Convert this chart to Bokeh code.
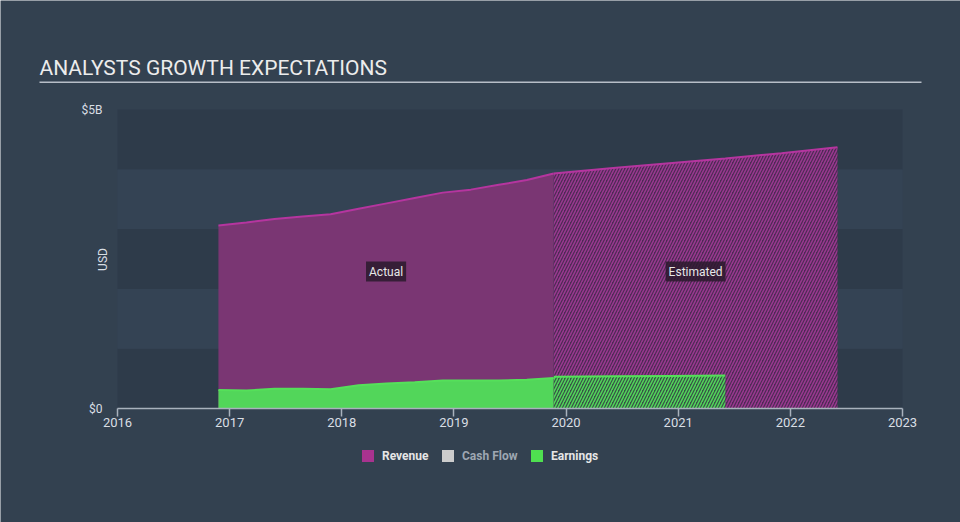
import re
import math
from bokeh.plotting import figure
from bokeh.models import FixedTicker, Label, Legend, LegendItem
from bokeh.embed import file_html
from bokeh.resources import INLINE

# ---------------- data (USD billions) ----------------
actual_dates = [2016.90, 2017.15, 2017.40, 2017.65, 2017.90, 2018.15, 2018.40,
                2018.65, 2018.90, 2019.15, 2019.40, 2019.65, 2019.89]
revenue_actual = [3.06, 3.11, 3.17, 3.21, 3.25, 3.34, 3.43,
                  3.52, 3.61, 3.66, 3.74, 3.82, 3.93]
earnings_actual = [0.31, 0.30, 0.33, 0.33, 0.32, 0.39, 0.42,
                   0.44, 0.47, 0.47, 0.47, 0.48, 0.51]

revenue_est_dates = [2019.89, 2020.42, 2020.92, 2021.42, 2021.92, 2022.42]
revenue_est = [3.93, 4.02, 4.10, 4.18, 4.27, 4.37]

earnings_est_dates = [2019.89, 2020.42, 2020.92, 2021.42]
earnings_est = [0.53, 0.54, 0.545, 0.55]

year_ticks = [2016, 2017, 2018, 2019, 2020, 2021, 2022, 2023]
y_ticks = [0, 5]
y_tick_labels = {0: "$0", 5: "$5B"}
band_edges = [0, 1, 2, 3, 4, 5]

legend_names = ["Revenue", "Cash Flow", "Earnings"]
legend_colors = ["#a8338f", "#cccccc", "#4fe050"]

# ---------------- layout / styling ----------------
W, H = 960, 522
PAGE_BG = "#334150"
BAND_DARK = "#2e3b4a"
BAND_LIGHT = "#344354"
AXIS_COLOR = "#a9b2bd"
FONT = "Roboto"

# pixel placement of the value area (2016..2023, 0..5B)
PX_X0, PX_X1 = 117.0, 902.0
PX_Y0, PX_Y5 = 408.0, 109.0

sx = (PX_X1 - PX_X0) / (year_ticks[-1] - year_ticks[0])
sy = (PX_Y0 - PX_Y5) / (band_edges[-1] - band_edges[0])


def xd(px):
    return year_ticks[0] + (px - PX_X0) / sx


def yd(py):
    return (PX_Y0 - py) / sy


p = figure(width=W, height=H,
           x_range=(xd(0), xd(W)), y_range=(yd(H), yd(0)),
           output_backend="svg", toolbar_location=None,
           min_border=0, min_border_left=0, min_border_right=0,
           min_border_top=0, min_border_bottom=0,
           background_fill_color=PAGE_BG, border_fill_color=PAGE_BG)
p.outline_line_color = None
p.outline_line_alpha = 0
p.grid.visible = False

# alternating bands
band_colors = [BAND_DARK if i % 2 == 0 else BAND_LIGHT for i in range(len(band_edges) - 1)]
p.quad(left=year_ticks[0], right=year_ticks[-1], bottom=band_edges[:-1], top=band_edges[1:],
       fill_color=band_colors, line_color=None)

# revenue
p.varea(x=actual_dates, y1=0, y2=revenue_actual, fill_color="#7a3673")
p.varea(x=revenue_est_dates, y1=0, y2=revenue_est, fill_color="#4e2a55",
        hatch_pattern="/", hatch_color="#9a3890", hatch_scale=6, hatch_weight=1.5)
p.line(actual_dates, revenue_actual, line_color="#b5359f", line_width=2)
p.line(revenue_est_dates, revenue_est, line_color="#b5359f", line_width=2)

# earnings
p.varea(x=actual_dates, y1=0, y2=earnings_actual, fill_color="#52d65a")
p.varea(x=earnings_est_dates, y1=0, y2=earnings_est, fill_color="#365446",
        hatch_pattern="/", hatch_color="#52d65a", hatch_scale=6, hatch_weight=1.5)
p.line(actual_dates, earnings_actual, line_color="#55e05a", line_width=2)
p.line(earnings_est_dates, earnings_est, line_color="#55e05a", line_width=2)

# baseline of the time axis
p.segment(x0=[year_ticks[0]], y0=[band_edges[0]], x1=[year_ticks[-1]], y1=[band_edges[0]],
          line_color=AXIS_COLOR, line_width=1.5)

# x axis, placed at $0
xa = p.xaxis[0]
xa.fixed_location = 0
xa.bounds = (year_ticks[0], year_ticks[-1])
xa.ticker = FixedTicker(ticks=year_ticks)
xa.axis_line_color = None
xa.major_tick_line_color = AXIS_COLOR
xa.major_tick_line_width = 1.5
xa.major_tick_out = 8
xa.major_tick_in = 0
xa.minor_tick_line_color = None
xa.major_label_standoff = 1
xa.major_label_text_font = FONT
xa.major_label_text_font_size = "13px"
xa.major_label_text_color = "#d9dee4"

# y axis, placed at 2016
ya = p.yaxis[0]
ya.fixed_location = year_ticks[0]
ya.ticker = FixedTicker(ticks=y_ticks)
ya.major_label_overrides = y_tick_labels
ya.axis_line_color = None
ya.major_tick_line_color = None
ya.minor_tick_line_color = None
ya.major_tick_out = 0
ya.major_tick_in = 0
ya.major_label_standoff = 15
ya.major_label_text_font = FONT
ya.major_label_text_font_size = "12px"
ya.major_label_text_color = "#d9dee4"

# USD axis title
p.add_layout(Label(x=xd(102.5), y=yd(259), text="USD",
                   angle=math.pi / 2, text_align="center", text_baseline="middle",
                   text_font=FONT, text_font_size="12px", text_color="#d9dee4"))

# chart title and underline
p.add_layout(Label(x=xd(39), y=yd(67), text="ANALYSTS GROWTH EXPECTATIONS",
                   text_align="left", text_baseline="alphabetic", text_font=FONT,
                   text_font_size="21px", text_color="#ececec"))
p.segment(x0=[xd(39)], y0=[yd(81.8)], x1=[xd(921)], y1=[yd(81.8)],
          line_color="#b7bec7", line_width=1.5)

# Actual / Estimated labels
for txt, lo, hi in [("Actual", actual_dates[0], actual_dates[-1]),
                    ("Estimated", revenue_est_dates[0], revenue_est_dates[-1])]:
    p.add_layout(Label(x=(lo + hi) / 2, y=yd(271), text=txt, text_align="center",
                       text_baseline="middle", text_font=FONT, text_font_size="12px",
                       text_color="#e8e8e8", background_fill_color="#2a1a2d",
                       background_fill_alpha=0.85, padding=3))

# legends (one per entry so Cash Flow can be dimmed); swatch renderers hold no drawable row
legend_px = [360, 440, 529]
label_colors = ["#e6e6e6", "#9ea7b2", "#e6e6e6"]
nan = float("nan")
for name, col, lx, lc in zip(legend_names, legend_colors, legend_px, label_colors):
    r = p.quad(left=[nan], right=[nan], top=[nan], bottom=[nan],
               fill_color=col, line_color=None)
    lg = Legend(items=[LegendItem(label=name, renderers=[r])],
                location=(lx, H - 463),
                orientation="horizontal", padding=0, margin=0, spacing=0,
                glyph_width=15, glyph_height=15, label_height=15, label_standoff=7,
                label_text_font=FONT, label_text_font_size="12px",
                label_text_color=lc, label_text_font_style="bold",
                border_line_color=None, background_fill_alpha=0)
    p.add_layout(lg)

html = file_html(p, INLINE)
html = re.sub(r"<body([^>]*)>", r'<body\1 style="background:%s;">' % PAGE_BG, html, count=1)
open("out.html", "w").write(html)
